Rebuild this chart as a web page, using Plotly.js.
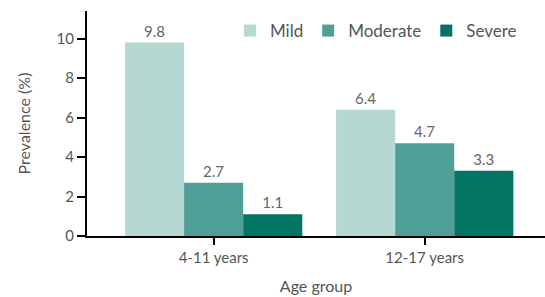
<!DOCTYPE html>
<html><head><meta charset="utf-8">
<script src="https://cdn.plot.ly/plotly-3.0.1.min.js"></script>
<style>html,body{margin:0;padding:0;background:#fff}</style>
</head><body>
<div id="chart" style="width:545px;height:297px"></div>
<script>
const categories = ["4-11 years", "12-17 years"];
const mild = [9.8, 6.4];
const moderate = [2.7, 4.7];
const severe = [1.1, 3.3];
const seriesNames = ["Mild", "Moderate", "Severe"];
const colors = ["#b3d9d2", "#4f9f96", "#017463"];

const font = "Lato, 'Open Sans', sans-serif";
const traces = [mild, moderate, severe].map((vals, i) => ({
  type: "bar",
  name: seriesNames[i],
  x: categories,
  y: vals,
  marker: {color: colors[i]},
  text: vals.map(v => v.toFixed(1)),
  textposition: "outside",
  cliponaxis: false,
  textfont: {color: "#666", size: 15, family: font}
}));

const layout = {
  width: 545, height: 297,
  margin: {l: 87, r: 0, t: 11, b: 61},
  barmode: "group",
  bargap: 0.16,
  bargroupgap: 0,
  paper_bgcolor: "#fff",
  plot_bgcolor: "#fff",
  font: {family: font, color: "#555", size: 15},
  showlegend: true,
  legend: {orientation: "h", x: 0.312, y: 0.911, xanchor: "left", yanchor: "middle",
           font: {size: 17, color: "#555"}, itemwidth: 30, tracegroupgap: 0},
  xaxis: {
    type: "category",
    range: [-0.6, 1.57],
    showline: true, linecolor: "#000", linewidth: 2,
    ticks: "outside", ticklen: 7, tickwidth: 2, tickcolor: "#000",
    showgrid: false, zeroline: false,
    tickfont: {size: 15, color: "#555"},
    title: {text: "Age group", font: {size: 16, color: "#555"}, standoff: 16}
  },
  yaxis: {
    range: [0, 11.4],
    tickvals: [0, 2, 4, 6, 8, 10],
    showline: true, linecolor: "#000", linewidth: 2,
    ticks: "outside", ticklen: 8, tickwidth: 2, tickcolor: "#000",
    showgrid: false, zeroline: false,
    tickfont: {size: 15, color: "#555"},
    title: {text: "Prevalence (%)", font: {size: 16, color: "#555"}, standoff: 22}
  }
};
Plotly.newPlot("chart", traces, layout, {displayModeBar: false, staticPlot: true});
</script>
</body></html>
